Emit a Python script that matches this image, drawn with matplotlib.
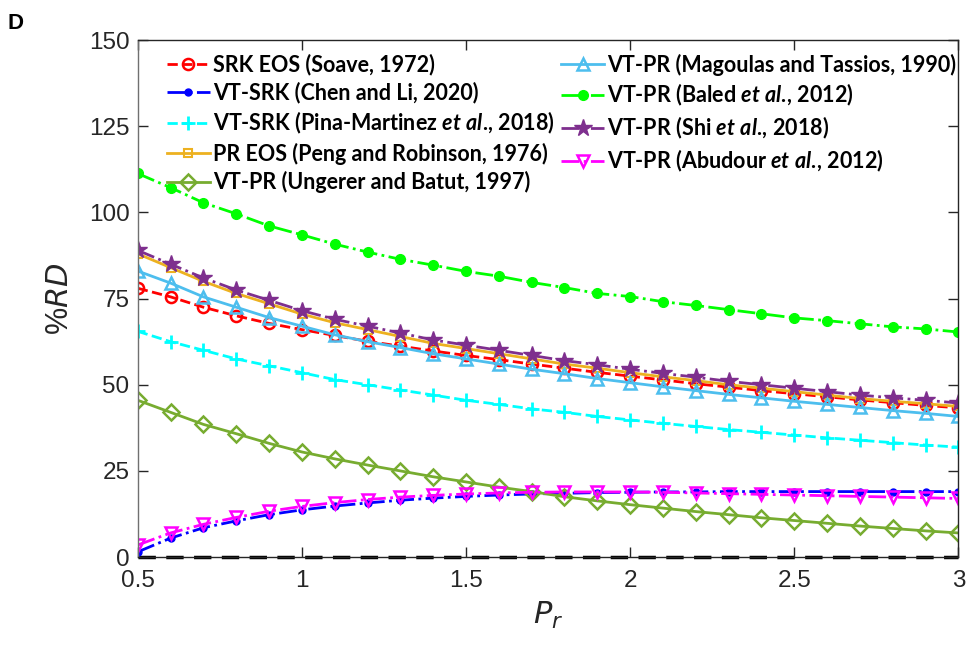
import numpy as np
import matplotlib.pyplot as plt

plt.rcParams['font.family'] = ['Liberation Sans', 'DejaVu Sans']
plt.rcParams['mathtext.fontset'] = 'custom'
plt.rcParams['mathtext.rm'] = 'Lato:bold'
plt.rcParams['mathtext.it'] = 'Lato:italic:bold'

# reduced pressure grid
pr = np.round(np.arange(0.5, 3.01, 0.1), 1)

srk_soave = [78, 75.5, 72.5, 70, 67.8, 66, 64.3, 62.6, 61.2, 59.8, 58.5, 57.3, 56,
             54.8, 53.6, 52.5, 51.4, 50.3, 49.3, 48.3, 47.4, 46.5, 45.6, 44.8, 44, 43.3]
vtsrk_chen = [1.5, 5.5, 8.5, 10.5, 12.3, 13.7, 14.8, 15.7, 16.5, 17.1, 17.6, 18, 18.3,
              18.5, 18.7, 18.8, 18.9, 18.9, 19, 19, 19, 19, 19, 19, 19, 19]
vtsrk_pina = [65.5, 62.5, 60, 57.5, 55.5, 53.5, 51.5, 50, 48.5, 47, 45.5, 44.3, 43,
              42, 40.8, 39.8, 38.8, 37.9, 37, 36.2, 35.4, 34.6, 33.9, 33.2, 32.5, 31.9]
pr_peng = [88, 84, 80, 76.5, 73.5, 70.5, 68, 66, 64, 62, 60.5, 59, 57.5,
           56, 54.8, 53.5, 52.3, 51.2, 50, 49, 48, 47, 46, 45.2, 44.5, 43.7]
vtpr_ungerer = [45.5, 42, 38.5, 35.8, 33, 30.5, 28.5, 26.7, 25, 23.3, 21.8, 20.3, 19,
                17.5, 16.3, 15.2, 14.2, 13.2, 12.3, 11.4, 10.6, 9.8, 9, 8.3, 7.6, 7]
vtpr_magoulas = [83, 79.5, 75.5, 72.5, 69.5, 67, 64.5, 62.5, 60.8, 59, 57.5, 56, 54.5,
                 53.2, 51.8, 50.6, 49.4, 48.3, 47.2, 46.2, 45.2, 44.3, 43.4, 42.5, 41.7, 40.8]
vtpr_baled = [111.3, 107.2, 102.8, 99.6, 96.1, 93.5, 90.8, 88.5, 86.4, 84.7, 82.9, 81.5, 79.7,
              78.2, 76.5, 75.6, 74.1, 73, 71.8, 70.6, 69.4, 68.6, 67.7, 66.8, 66.2, 65.3]
vtpr_shi = [89, 85, 81, 77.5, 74.5, 71.5, 69, 67, 65, 63, 61.5, 60, 58.5,
            57, 55.8, 54.5, 53.3, 52.2, 51, 50, 49, 48, 47, 46.2, 45.5, 44.7]
vtpr_abudour = [3.5, 7, 9.5, 11.5, 13.3, 14.7, 15.8, 16.7, 17.4, 17.9, 18.3, 18.6, 18.8,
                18.9, 18.9, 18.9, 18.8, 18.6, 18.4, 18.2, 18, 17.8, 17.6, 17.4, 17.2, 17]

etal = r'$\mathit{et\ al.}\!\mathrm{,}$'
labels = [
    'SRK EOS (Soave, 1972)',
    'VT-SRK (Chen and Li, 2020)',
    'VT-SRK (Pina-Martinez ' + etal + ' 2018)',
    'PR EOS (Peng and Robinson, 1976)',
    'VT-PR (Ungerer and Batut, 1997)',
    'VT-PR (Magoulas and Tassios, 1990)',
    'VT-PR (Baled ' + etal + ' 2012)',
    'VT-PR (Shi ' + etal + ' 2018)',
    'VT-PR (Abudour ' + etal + ' 2012)',
]

fig = plt.figure(figsize=(9.7, 6.47), dpi=100)
ax = fig.add_axes([0.142, 0.139, 0.846, 0.799])

lw = 2
ax.plot(pr, np.zeros_like(pr), color='k', ls=(0, (5, 3)), lw=2.5, zorder=1, clip_on=False)

ax.plot(pr, srk_soave, color='#ff0000', ls='--', lw=lw, marker='o', ms=8,
        mfc='none', mew=1.8, label=labels[0])
ax.plot(pr, vtsrk_chen, color='#0000ff', ls='-.', lw=lw, marker='o', ms=5,
        label=labels[1])
ax.plot(pr, vtsrk_pina, color='#00ffff', ls='--', lw=lw, marker='+', ms=10,
        mew=2, label=labels[2])
ax.plot(pr, pr_peng, color='#edb120', ls='-', lw=lw, marker='s', ms=6,
        mfc='none', mew=1.5, label=labels[3])
ax.plot(pr, vtpr_ungerer, color='#77ac30', ls='-', lw=lw, marker='D', ms=8,
        mfc='none', mew=1.8, label=labels[4])
ax.plot(pr, vtpr_magoulas, color='#4dbeee', ls='-', lw=lw, marker='^', ms=9,
        mfc='none', mew=1.8, label=labels[5])
ax.plot(pr, vtpr_baled, color='#00ff00', ls='-.', lw=lw, marker='o', ms=7,
        label=labels[6])
ax.plot(pr, vtpr_shi, color='#7e2f8e', ls='-.', lw=lw, marker='*', ms=13,
        label=labels[7])
ax.plot(pr, vtpr_abudour, color='#ff00ff', ls='-.', lw=lw, marker='v', ms=9,
        mfc='none', mew=1.8, label=labels[8])

ax.set_xlim(0.5, 3)
ax.set_ylim(0, 150)
ax.set_xticks([0.5, 1, 1.5, 2, 2.5, 3])
ax.set_xticklabels(['0.5', '1', '1.5', '2', '2.5', '3'])
ax.set_yticks([0, 25, 50, 75, 100, 125, 150])
ax.tick_params(direction='in', length=7, width=1, labelsize=17.5, colors='#262626',
               top=True, right=True)
ax.tick_params(axis='x', pad=9)
ax.tick_params(axis='y', pad=6)
for s in ax.spines.values():
    s.set_color('#262626')
    s.set_linewidth(1)
ax.spines['left'].set_color('#707070')

ax.set_ylabel('%$\\mathit{RD}$', fontsize=22, color='#262626', labelpad=10)
ax.set_xlabel('$P_r$', fontsize=22, color='#262626', labelpad=6)
ax.yaxis.label.set_math_fontfamily('dejavusans')
ax.xaxis.label.set_math_fontfamily('dejavusans')

leg = ax.legend(ncol=2, loc='upper left', bbox_to_anchor=(0.022, 0.995), frameon=False,
                prop={'family': 'Lato', 'weight': 'bold', 'size': 15.5},
                handlelength=2.0, handletextpad=0.15, columnspacing=0.3,
                labelspacing=0.3, borderaxespad=0.1)

fig.text(0.008, 0.955, 'D', fontsize=16, fontweight='bold', fontfamily='Liberation Sans')

fig.savefig('out.png', dpi=100)
